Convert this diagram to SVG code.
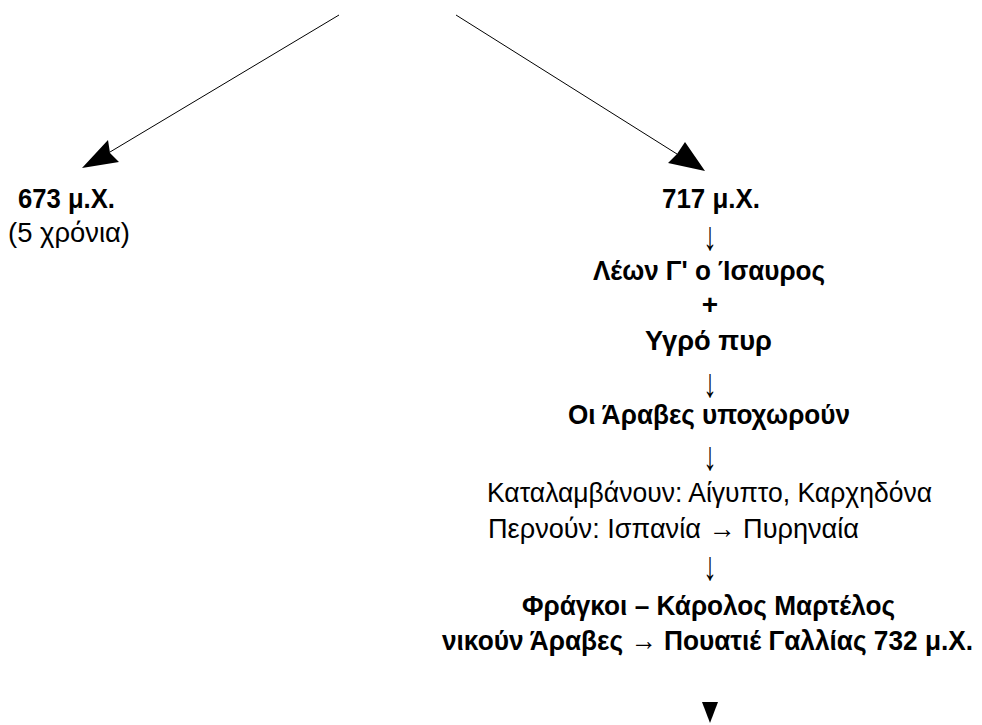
<svg xmlns="http://www.w3.org/2000/svg" width="982" height="725" viewBox="0 0 982 725">
<style>
text{font-family:"Liberation Sans",Arial,sans-serif;font-size:28px;fill:#000}
.b{font-weight:bold}
.m{text-anchor:middle}
.ar{font-size:27px;text-anchor:middle}
.ln{stroke:#000;stroke-width:1;fill:none}
</style>
<rect width="982" height="725" fill="#fff"/>
<g id="connectors">
<line class="ln" x1="339" y1="15" x2="110" y2="152"/>
<polygon points="82,168 108,140 110,153 119,162" fill="#000"/>
<line class="ln" x1="456" y1="15" x2="677" y2="154"/>
<polygon points="705,171 685,142 677,154 668,163" fill="#000"/>
</g>
<g id="n673">
<text class="b" x="18" y="208" textLength="97" lengthAdjust="spacingAndGlyphs">673 μ.Χ.</text>
<text x="8" y="242" textLength="122" lengthAdjust="spacingAndGlyphs">(5 χρόνια)</text>
</g>
<g id="n717">
<text class="b" x="662" y="208" textLength="98" lengthAdjust="spacingAndGlyphs">717 μ.Χ.</text>
<text class="ar" transform="translate(710,250) scale(1,1.5)">↓</text>
<text class="b" x="593" y="280" textLength="232" lengthAdjust="spacingAndGlyphs">Λέων Γ' ο Ίσαυρος</text>
<text class="b m" x="710" y="314">+</text>
<text class="b" x="645" y="350" textLength="127" lengthAdjust="spacingAndGlyphs">Υγρό πυρ</text>
<text class="ar" transform="translate(710,397) scale(1,1.5)">↓</text>
<text class="b" x="568" y="424" textLength="282" lengthAdjust="spacingAndGlyphs">Οι Άραβες υποχωρούν</text>
<text class="ar" transform="translate(710,470) scale(1,1.5)">↓</text>
<text x="487" y="502" textLength="445" lengthAdjust="spacingAndGlyphs">Καταλαμβάνουν: Αίγυπτο, Καρχηδόνα</text>
<text x="488" y="538" textLength="371" lengthAdjust="spacingAndGlyphs">Περνούν: Ισπανία → Πυρηναία</text>
<text class="ar" transform="translate(710,580) scale(1,1.5)">↓</text>
<text class="b" x="522" y="615" textLength="373" lengthAdjust="spacingAndGlyphs">Φράγκοι – Κάρολος Μαρτέλος</text>
<text class="b" x="442" y="650" textLength="531" lengthAdjust="spacingAndGlyphs">νικούν Άραβες → Πουατιέ Γαλλίας 732 μ.Χ.</text>
<polygon points="702,702 718,702 710,723" fill="#000"/>
</g>
</svg>
